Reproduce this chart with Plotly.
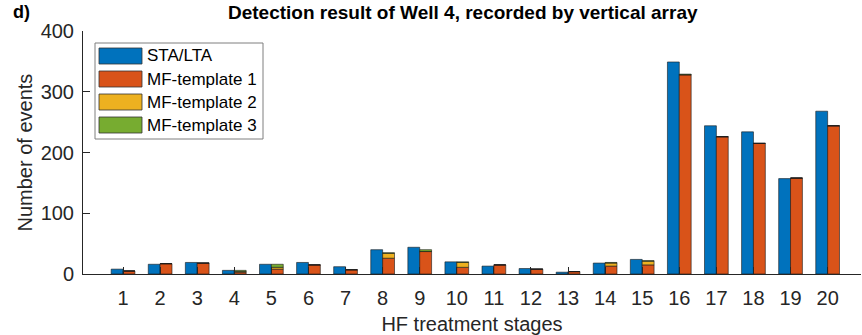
import plotly.graph_objects as go
import numpy as np

stages = list(range(1, 21))
sta_lta = [8, 16, 19, 6, 16, 19, 12, 40, 44, 20, 13, 9, 3, 18, 24, 349, 244, 234, 157, 268]
mf_t1 = [5, 17, 18, 3, 8, 15, 7, 26, 37, 11, 15, 8, 4, 13, 15, 328, 226, 215, 158, 244]
mf_t2 = [0, 0, 0, 1, 3, 0, 0, 8, 0, 8, 0, 0, 0, 5, 6, 0, 0, 0, 0, 0]
mf_t3 = [0, 0, 0, 2, 5, 0, 0, 1, 3, 1, 0, 0, 0, 1, 1, 1, 0, 0, 0, 0]

series_names = ["STA/LTA", "MF-template 1", "MF-template 2", "MF-template 3"]
y_ticks = [0, 100, 200, 300, 400]

C_BLUE = "#0072BD"
C_ORANGE = "#D95319"
C_YELLOW = "#EDB120"
C_GREEN = "#77AC30"
colors = [C_BLUE, C_ORANGE, C_YELLOW, C_GREEN]
FONT = "Liberation Sans, Arial, sans-serif"
AX = "#262626"

# plot area geometry (pixels)
W, H = 862, 335
ML, MR, MT, MB = 83, 1, 31, 61
PW = W - ML - MR
PH = H - MT - MB

def px_x(px):
    return (px - ML) / PW

def px_y(py):
    return (H - MB - py) / PH

w = 0.32
base2 = np.array(mf_t1)
base3 = base2 + np.array(mf_t2)
edge = dict(color="#1a1a1a", width=0.6)

fig = go.Figure()
fig.add_bar(x=stages, y=sta_lta, name=series_names[0], width=w, offset=-w,
            marker=dict(color=C_BLUE, line=edge))
fig.add_bar(x=stages, y=mf_t1, name=series_names[1], width=w, offset=0, base=0,
            marker=dict(color=C_ORANGE, line=edge))
fig.add_bar(x=stages, y=mf_t2, name=series_names[2], width=w, offset=0, base=base2,
            marker=dict(color=C_YELLOW, line=edge))
fig.add_bar(x=stages, y=mf_t3, name=series_names[3], width=w, offset=0, base=base3,
            marker=dict(color=C_GREEN, line=edge))

fig.update_layout(
    width=W, height=H,
    barmode="overlay",
    plot_bgcolor="white", paper_bgcolor="white",
    margin=dict(l=ML, r=MR, t=MT, b=MB, autoexpand=False),
    font=dict(family=FONT, size=20, color="black"),
    showlegend=False,
    xaxis=dict(range=[-0.08, 20.9], tickmode="array", tickvals=stages,
               ticktext=[str(s) for s in stages],
               ticks="inside", ticklen=7, tickcolor=AX, tickwidth=1,
               showline=True, linecolor=AX, linewidth=1, showgrid=False,
               zeroline=False, tickfont=dict(size=20, color=AX),
               ticklabelstandoff=6, automargin=False,
               title=dict(text="HF treatment stages", font=dict(size=20, color=AX))),
    yaxis=dict(range=[0, 400], tickmode="array", tickvals=y_ticks,
               ticks="inside", ticklen=7, tickcolor=AX, tickwidth=1,
               showline=True, linecolor=AX, linewidth=1, showgrid=False,
               zeroline=False, tickfont=dict(size=20, color=AX),
               ticklabelstandoff=4, automargin=False),
)

fig.add_annotation(text="Number of events", xref="paper", yref="paper",
                   x=px_x(24), y=0.5, xanchor="center", yanchor="middle",
                   textangle=-90, showarrow=False, font=dict(size=20, color=AX))

# legend box drawn to match the MATLAB style (wide colour swatches)
fig.add_shape(type="rect", xref="paper", yref="paper",
              x0=px_x(95), x1=px_x(263), y0=px_y(139), y1=px_y(43),
              line=dict(color="#7f7f7f", width=1), fillcolor="white", layer="above")
row_top = [48, 71, 94, 117]
for name, col, top in zip(series_names, colors, row_top):
    fig.add_shape(type="rect", xref="paper", yref="paper",
                  x0=px_x(99), x1=px_x(142), y0=px_y(top + 16), y1=px_y(top),
                  line=dict(color="#333333", width=0.8), fillcolor=col, layer="above")
    fig.add_annotation(text=name, xref="paper", yref="paper",
                       x=px_x(145), y=px_y(top + 8), xanchor="left", yanchor="middle",
                       showarrow=False, font=dict(size=17, color="black"))

fig.add_annotation(text="<b>Detection result of Well 4, recorded by vertical array</b>",
                   xref="paper", yref="paper", x=px_x(463), y=px_y(12),
                   xanchor="center", yanchor="middle", showarrow=False,
                   font=dict(size=19, color="black"))
fig.add_annotation(text="<b>d)</b>", xref="paper", yref="paper", x=px_x(11), y=px_y(12),
                   xanchor="left", yanchor="middle", showarrow=False,
                   font=dict(size=18, color="black"))

fig.write_html("out.html",
               config={"displayModeBar": False},
               post_script="document.body.style.margin='0';document.body.style.padding='0';")
